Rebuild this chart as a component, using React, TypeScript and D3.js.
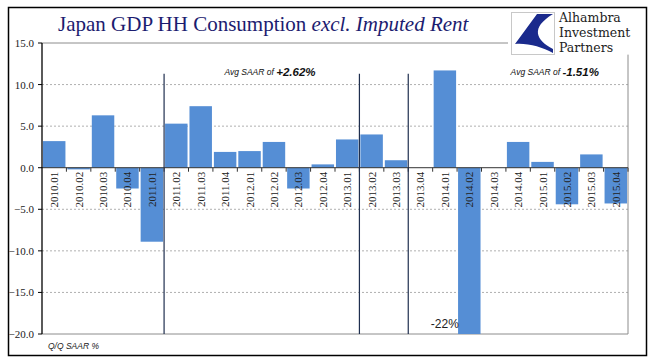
import * as d3 from "d3";

const quarters = [
  "2010.01", "2010.02", "2010.03", "2010.04", "2011.01", "2011.02", "2011.03", "2011.04",
  "2012.01", "2012.02", "2012.03", "2012.04", "2013.01", "2013.02", "2013.03", "2013.04",
  "2014.01", "2014.02", "2014.03", "2014.04", "2015.01", "2015.02", "2015.03", "2015.04",
];

const saarValues = [
  3.2, -0.2, 6.3, -2.5, -8.9, 5.3, 7.4, 1.9,
  2.0, 3.1, -2.5, 0.4, 3.4, 4.0, 0.9, 0.0,
  11.7, -22.0, 0.0, 3.1, 0.7, -4.4, 1.6, -4.3,
];

const yTicks = [15, 10, 5, 0, -5, -10, -15, -20];

// period breaks drawn before these quarters
const breakQuarters = ["2011.02", "2013.02", "2013.04"];

const averages = [
  { label: "Avg SAAR of ", value: "+2.62%", at: "2012.02" },
  { label: "Avg SAAR of ", value: "-1.51%", at: "2015.02" },
];

const logoLines = ["Alhambra", "Investment", "Partners"];

const W = 651;
const H = 361;
const BAR = "#558ed5";
const NAVY = "#1c1c70";

export default function App() {
  const margin = { top: 43, right: 23, bottom: 27, left: 42 };
  const innerRight = W - margin.right;
  const innerBottom = H - margin.bottom;

  const x = d3
    .scaleBand<string>()
    .domain(quarters)
    .range([margin.left, innerRight])
    .paddingInner(0.08)
    .paddingOuter(0.04);

  const y = d3.scaleLinear().domain([-20, 15]).range([innerBottom, margin.top]).clamp(true);

  const step = x.step();
  const gapHalf = (step * 0.08) / 2;
  const bandLeft = (q: string) => (x(q) ?? 0) - gapHalf;
  const fmt = d3.format(".1f");

  return (
    <svg
      width={W}
      height={H}
      style={{ position: "absolute", left: 0, top: 0, background: "#fff" }}
      fontFamily="'Liberation Serif', serif"
    >
      <rect x={8.5} y={7.5} width={638} height={348} fill="#fff" stroke="#000" strokeWidth={1.5} />

      {/* title */}
      <text x={58} y={31} fill={NAVY} fontSize={21}>
        Japan GDP HH Consumption <tspan fontStyle="italic">excl. Imputed Rent</tspan>
      </text>

      {/* logo */}
      <g>
        <rect x={511.5} y={12.5} width={43} height={42} fill="#fff" stroke="#c8c8c8" />
        <path
          d="M553,14 L537,14 L515,44 C528,43 542,47 553,53 L553,49 C536,40 530,28 553,14 Z"
          fill="#1a2a8c"
        />
        <g fill="#222" fontSize={12.5} fontFamily="'DejaVu Serif', serif">
          {logoLines.map((t, i) => (
            <text key={t} x={559} y={22 + i * 15}>
              {t}
            </text>
          ))}
        </g>
      </g>

      {/* gridlines */}
      {yTicks.map((t) => {
        if (t === 0) return null;
        const solid = t === 15 || t === -20;
        return (
          <line
            key={`g${t}`}
            x1={margin.left}
            x2={t === 15 ? 508 : innerRight}
            y1={y(t)}
            y2={y(t)}
            stroke={solid ? "#8c8c8c" : "#b0b0b0"}
            strokeDasharray={solid ? undefined : "2,2"}
            strokeWidth={1}
          />
        );
      })}
      <line x1={innerRight} x2={innerRight} y1={y(13.6)} y2={innerBottom} stroke="#8c8c8c" />

      {/* bars */}
      {quarters.map((q, i) => {
        const v = saarValues[i];
        const y0 = y(0);
        const y1 = y(v);
        return (
          <rect
            key={q}
            x={x(q)}
            y={Math.min(y0, y1)}
            width={x.bandwidth()}
            height={Math.abs(y1 - y0)}
            fill={BAR}
          />
        );
      })}

      {/* zero axis */}
      <line x1={margin.left} x2={innerRight} y1={y(0)} y2={y(0)} stroke="#333" />
      {quarters.map((q) => (
        <line key={`t${q}`} x1={bandLeft(q) + step} x2={bandLeft(q) + step} y1={y(0)} y2={y(0) + 4} stroke="#333" />
      ))}

      {/* category labels */}
      {quarters.map((q) => {
        const cx = (x(q) ?? 0) + x.bandwidth() / 2;
        const ty = y(0) + 4;
        return (
          <text
            key={`l${q}`}
            transform={`translate(${cx},${ty}) rotate(-90)`}
            textAnchor="end"
            dominantBaseline="central"
            fontSize={11}
            fill="#222"
          >
            {q}
          </text>
        );
      })}

      {/* period breaks */}
      {breakQuarters.map((q) => (
        <line
          key={`b${q}`}
          x1={bandLeft(q)}
          x2={bandLeft(q)}
          y1={y(11.3)}
          y2={innerBottom}
          stroke="#1f2f4f"
          strokeWidth={1.2}
        />
      ))}

      {/* y axis */}
      <line x1={margin.left} x2={margin.left} y1={margin.top} y2={innerBottom} stroke="#000" strokeWidth={1.3} />
      {yTicks.map((t) => (
        <g key={`y${t}`}>
          <line x1={margin.left - 4} x2={margin.left} y1={y(t)} y2={y(t)} stroke="#000" />
          <text x={margin.left - 8} y={y(t)} textAnchor="end" dominantBaseline="central" fontSize={11} fill="#222">
            {fmt(t)}
          </text>
        </g>
      ))}

      {/* annotations */}
      {averages.map((a) => (
        <text
          key={a.value}
          x={a.at === "2015.02" ? bandLeft(a.at) : (x(a.at) ?? 0) + x.bandwidth() / 2 - 4}
          y={y(11.5)}
          textAnchor="middle"
          dominantBaseline="central"
          fontFamily="'Liberation Sans', sans-serif"
          fontStyle="italic"
          fill="#111"
          fontSize={8.5}
        >
          {a.label}
          <tspan fontSize={11.5} fontWeight="bold">{a.value}</tspan>
        </text>
      ))}
      <text
        x={(x("2014.01") ?? 0) + x.bandwidth() / 2}
        y={y(-18.8)}
        textAnchor="middle"
        dominantBaseline="central"
        fontFamily="'Liberation Sans', sans-serif"
        fontSize={12}
        fill="#222"
      >
        -22%
      </text>

      <text
        x={48}
        y={349}
        fontFamily="'Liberation Sans', sans-serif"
        fontStyle="italic"
        fontSize={8.5}
        fill="#222"
      >
        Q/Q SAAR %
      </text>
    </svg>
  );
}
